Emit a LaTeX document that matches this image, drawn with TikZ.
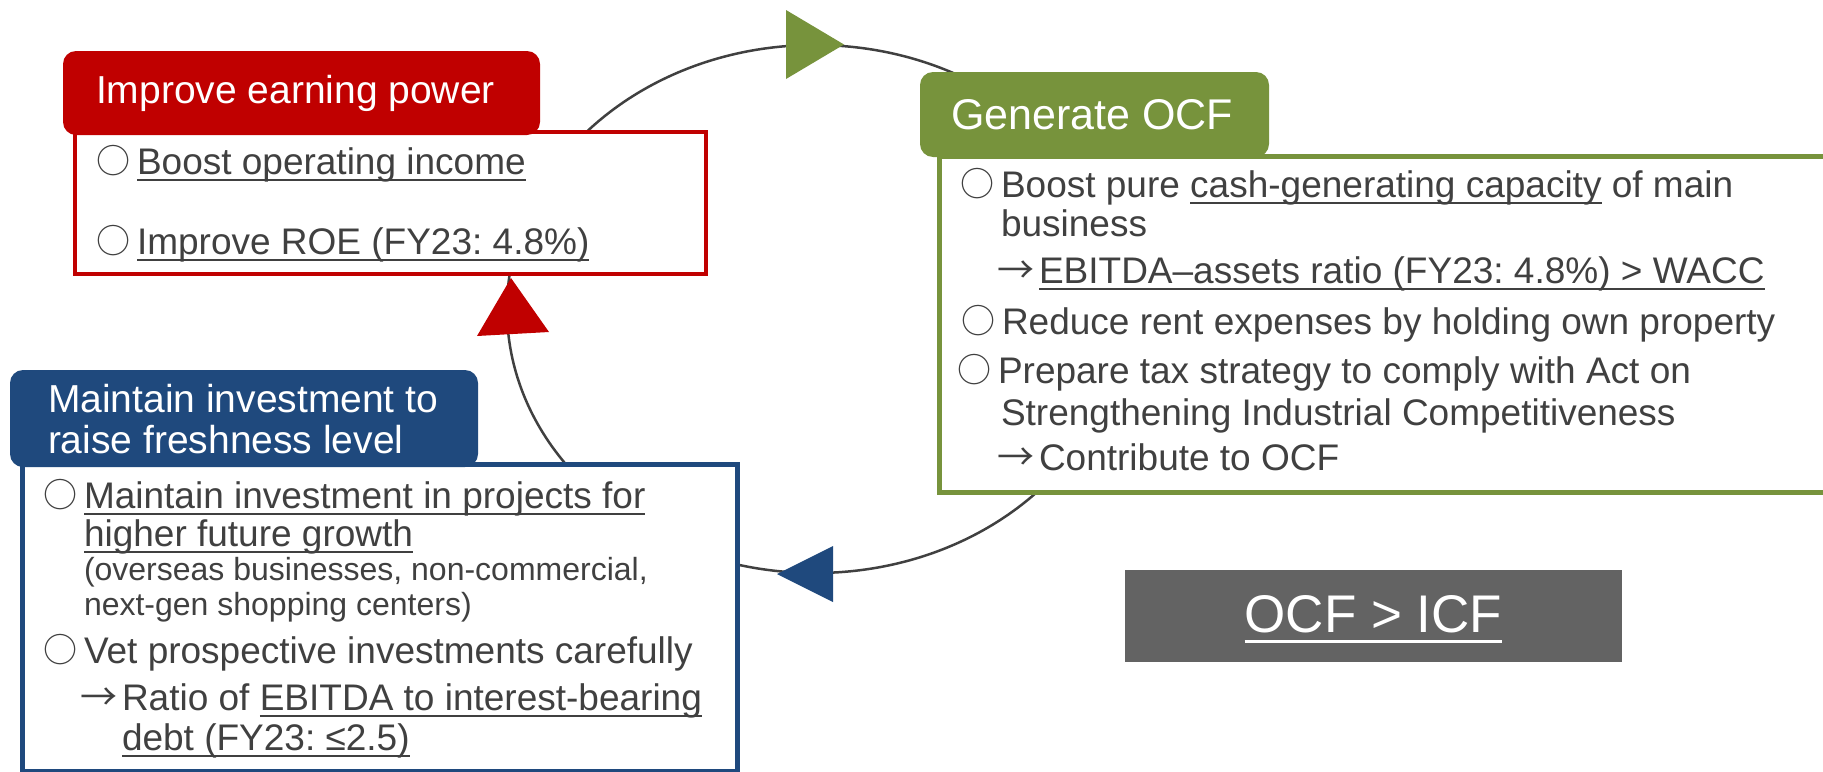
\documentclass[tikz,border=0pt]{standalone}
\usepackage{fontspec}
\setmainfont{Liberation Sans}
\newfontfamily\cjk{Noto Sans CJK JP}
\definecolor{cred}{HTML}{C00000}
\definecolor{cgreen}{HTML}{77933C}
\definecolor{cblue}{HTML}{1F497D}
\definecolor{cgraybox}{HTML}{636363}
\definecolor{tgray}{HTML}{404040}
\frenchspacing
\newsavebox\ulbox
\newcommand\ulx[1]{\sbox\ulbox{#1}\rlap{\rule[-0.19em]{\wd\ulbox}{0.055em}}\usebox\ulbox}
\newcommand\bul{\llap{\makebox[20.5pt][l]{\raisebox{0.5pt}{\fontsize{17}{20}\cjk ○}}}}
\newcommand\arr{\llap{\makebox[21pt][l]{\cjk →}}}
\newcommand\bodyfont{\fontsize{18.5}{22}\selectfont}
\newcommand\hdrfont{\fontsize{19.5}{23}\selectfont}
\newcommand\smallfnt{\fontsize{16}{19}\selectfont}
\newcommand\bigfnt{\fontsize{26.5}{30}\selectfont}
\tikzset{
  txt/.style={anchor=base west, inner sep=0pt, outer sep=0pt, text=tgray, font=\bodyfont},
  smalltxt/.style={txt, font=\smallfnt},
  htxt/.style={anchor=base west, inner sep=0pt, outer sep=0pt, text=white, font=\hdrfont},
  arcline/.style={draw=tgray, line width=1.25pt},
  redbox/.style={draw=cred, line width=2pt, fill=white},
  greenbox/.style={draw=cgreen, line width=2.5pt, fill=white},
  bluebox/.style={draw=cblue, line width=2.5pt, fill=white},
  hdrbox/.style={rounded corners=6.5pt},
}
\begin{document}
\begin{tikzpicture}[x=0.5pt,y=-0.5pt]
\useasboundingbox (0,0) rectangle (1823,771);
% cycle
\draw[arcline] (815,309) ellipse [x radius=154pt, y radius=132pt];
% boxes
\draw[redbox] (75,132) rectangle (706,274);
\fill[cred, hdrbox] (63,51) rectangle (540,135);
\draw[greenbox] (939.5,156) rectangle (1850,492.5);
\fill[cgreen, hdrbox] (920,72) rectangle (1269,157);
\draw[bluebox] (22,464) rectangle (737.5,771);
\fill[cblue, hdrbox] (10,370) rectangle (478,467);
\fill[cgraybox] (1125,570) rectangle (1622,662);
% arrow heads on the cycle
\fill[cgreen] (786,10) -- (844,44.5) -- (786,79) -- cycle;
\fill[cred] (511,278) -- (549,332) -- (477,336) -- cycle;
\fill[cblue] (777,574) -- (833,546) -- (833,602) -- cycle;
% red
\node[htxt] (rh) at (96,103) {Improve earning power};
\node[txt] (r1) at (137,174) {\bul\ulx{Boost operating income}};
\node[txt] (r2) at (137,254) {\bul\ulx{Improve ROE (FY23: 4.8\%)}};
% green
\node[htxt, font=\fontsize{21.5}{25}\selectfont] (gh) at (951,129) {Generate OCF};
\node[txt] (g1) at (1001,197) {\bul Boost pure \ulx{cash-generating capacity} of main};
\node[txt] (g2) at (1001,236) {business};
\node[txt] (g3) at (1039,283) {\arr\ulx{EBITDA–assets ratio (FY23: 4.8\%) > WACC}};
\node[txt] (g4) at (1002,334) {\bul Reduce rent expenses by holding own property};
\node[txt] (g5) at (998,383) {\bul Prepare tax strategy to comply with Act on};
\node[txt] (g6) at (1001,425) {Strengthening Industrial Competitiveness};
\node[txt] (g7) at (1039,470) {\arr Contribute to OCF};
% blue
\node[htxt] (bh1) at (48,412) {Maintain investment to};
\node[htxt] (bh2) at (48,453) {raise freshness level};
\node[txt] (b1) at (84,508) {\bul\ulx{Maintain investment in projects for}};
\node[txt] (b2) at (84,546) {\ulx{higher future growth}};
\node[smalltxt] (b3) at (84,580) {(overseas businesses, non-commercial,};
\node[smalltxt] (b4) at (84,615) {next-gen shopping centers)};
\node[txt] (b5) at (84,663) {\bul Vet prospective investments carefully};
\node[txt] (b6) at (122,710) {\arr Ratio of \ulx{EBITDA to interest-bearing}};
\node[txt] (b7) at (122,750) {\ulx{debt (FY23: ≤2.5)}};
% OCF > ICF
\node[inner sep=0pt, text=white, font=\bigfnt] (ocf) at (1373.5,619) {\ulx{OCF > ICF}};
\end{tikzpicture}
\end{document}
